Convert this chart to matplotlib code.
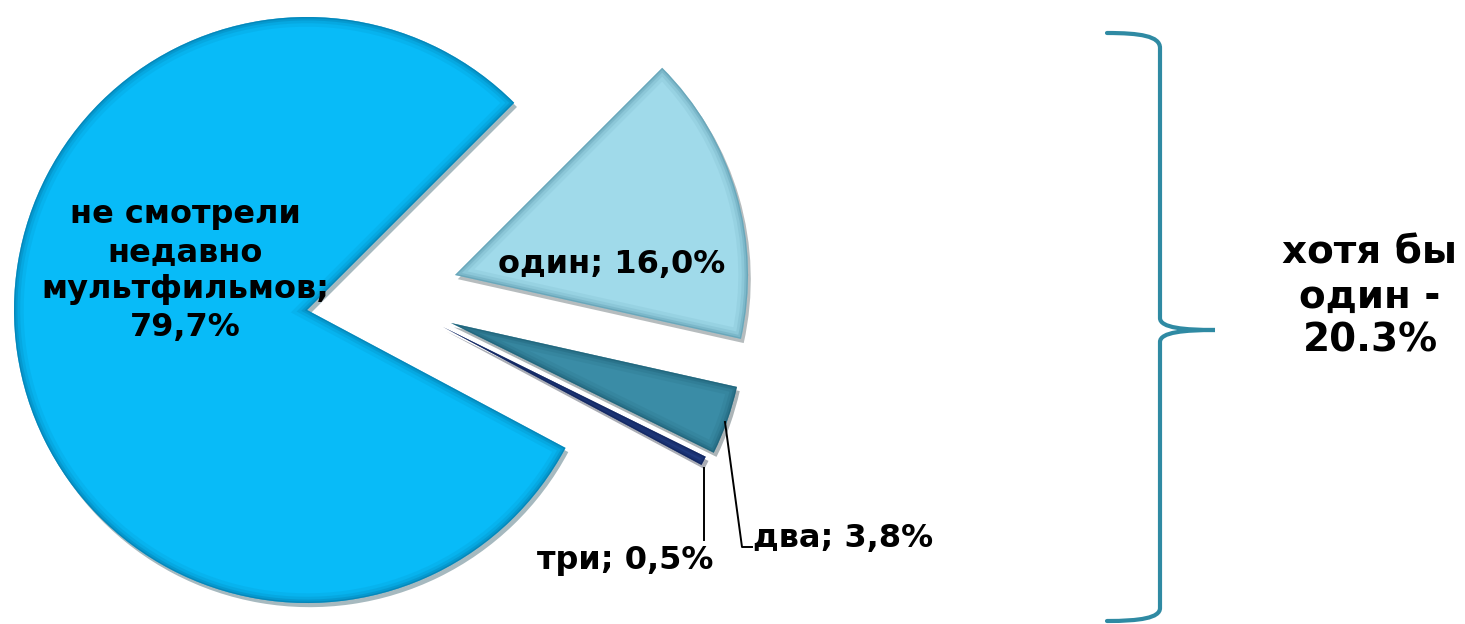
import matplotlib.pyplot as plt
import matplotlib.patches as mpatches
import matplotlib.patheffects as pe
from matplotlib.path import Path

plt.rcParams.update({
    'font.family': 'DejaVu Sans',
    'font.weight': 'bold',
})

# данные (по часовой стрелке, начиная с 45°)
categories = ['один', 'два', 'три', 'не смотрели\nнедавно\nмультфильмов']
shares = [16.0, 3.8, 0.5, 79.7]
share_labels = ['16,0%', '3,8%', '0,5%', '79,7%']
total_label = 'хотя бы\nодин -\n20.3%'

colors = ['#A0DAEA', '#3A8CA6', '#27458F', '#08BBF8']
rim_colors = ['#4F8EA3', '#17566B', '#0C1C4E', '#036E9C']

W, H = 1465, 624
fig = plt.figure(figsize=(W / 100, H / 100), dpi=100)
ax = fig.add_axes([0, 0, 1, 1])

cx, cy, R = 307, 314, 293
# смещение выдвинутых секторов (в пикселях)
offsets = [(148, 35), (144, -13), (136, -17), (0, 0)]

wedges, _ = ax.pie(shares, colors=colors, startangle=45, counterclock=False,
                   radius=R, center=(cx, cy), wedgeprops=dict(linewidth=0))

for w, (dx, dy), rc in zip(wedges, offsets, rim_colors):
    w.set_center((cx + dx, cy + dy))
    w.set_path_effects([pe.SimplePatchShadow(offset=(2, -3), alpha=0.35),
                        pe.Normal()])
    # имитация фаски: тёмная кромка внутри сектора
    for lw, a in [(14, 0.10), (9, 0.15), (5, 0.25), (2, 0.4)]:
        rim = mpatches.Wedge(w.center, w.r, w.theta1, w.theta2, fill=False,
                             edgecolor=rc, linewidth=lw, alpha=a,
                             joinstyle='miter')
        ax.add_patch(rim)
        rim.set_clip_path(w)

ax.set_xlim(0, W)
ax.set_ylim(0, H)
ax.axis('off')


def py(y):
    return H - y


# подписи
fs = 23
ax.text(185, py(271), categories[3] + ';\n' + share_labels[3], ha='center',
        va='center', fontsize=fs, fontweight='bold', linespacing=1.27)
ax.text(612, py(265), categories[0] + '; ' + share_labels[0], ha='center',
        va='center', fontsize=fs, fontweight='bold')
ax.text(753, py(538), categories[1] + '; ' + share_labels[1], ha='left',
        va='center', fontsize=fs, fontweight='bold')
ax.text(625, py(560), categories[2] + '; ' + share_labels[2], ha='center',
        va='center', fontsize=fs, fontweight='bold')

# выноски
ax.plot([725, 742, 752], [py(422), py(547), py(547)], color='black', lw=1.4)
ax.plot([704, 704], [py(468), py(540)], color='black', lw=1.4)

# фигурная скобка
verts = [
    (1107, py(33)), (1140, py(33)), (1160, py(36)), (1160, py(48)),
    (1160, py(318)),
    (1160, py(328)), (1185, py(330)), (1215, py(330)),
    (1185, py(330)), (1160, py(332)), (1160, py(342)),
    (1160, py(608)),
    (1160, py(618)), (1140, py(621)), (1107, py(621)),
]
codes = [Path.MOVETO, Path.CURVE4, Path.CURVE4, Path.CURVE4,
         Path.LINETO,
         Path.CURVE4, Path.CURVE4, Path.CURVE4,
         Path.CURVE4, Path.CURVE4, Path.CURVE4,
         Path.LINETO,
         Path.CURVE4, Path.CURVE4, Path.CURVE4]
ax.add_patch(mpatches.PathPatch(Path(verts, codes), fill=False,
                                edgecolor='#2F8AA3', lw=3, capstyle='round'))

ax.text(1370, py(297), total_label, ha='center', va='center', fontsize=28,
        fontweight='bold', linespacing=1.2)

fig.savefig('out.png', dpi=100)
